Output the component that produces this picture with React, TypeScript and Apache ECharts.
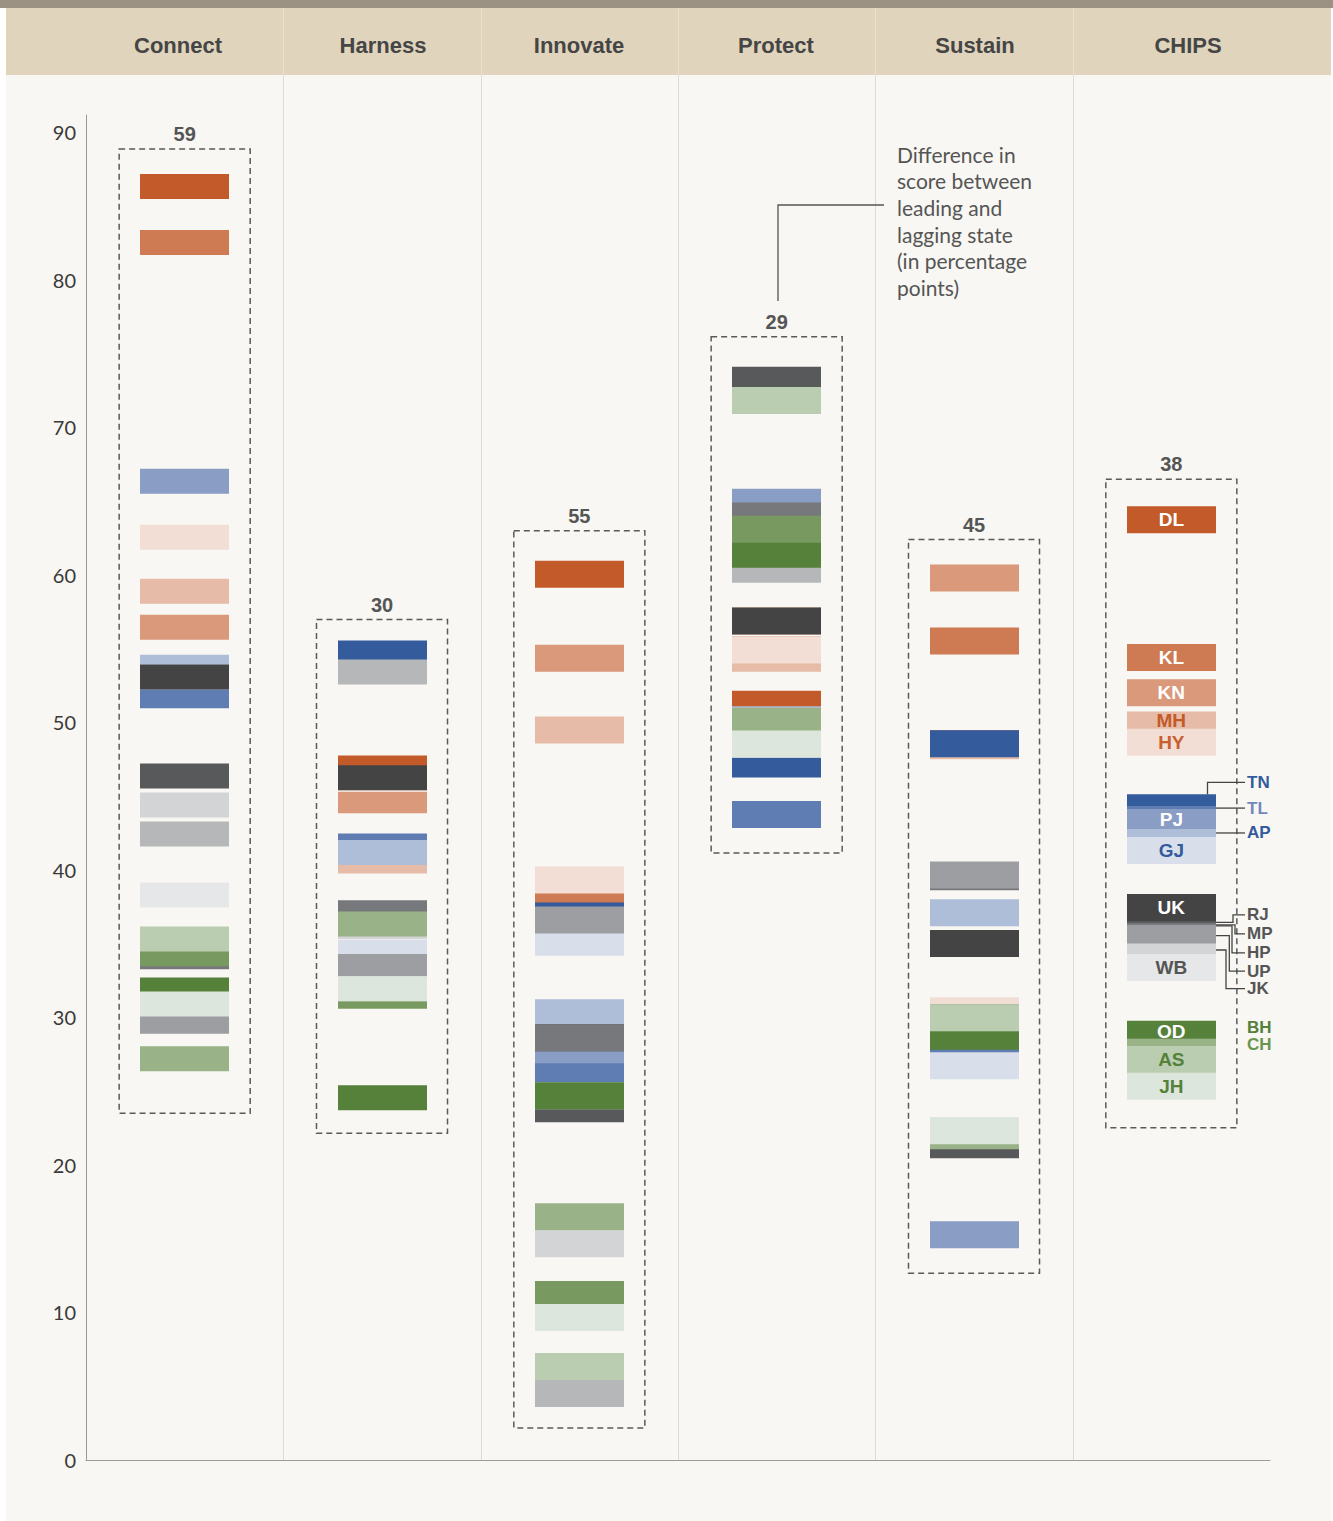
import React, { useEffect, useRef } from "react";
import * as echarts from "echarts";

const pillars = ["Connect", "Harness", "Innovate", "Protect", "Sustain", "CHIPS"];
const gapLabels = [59, 30, 55, 29, 45, 38];
const states = ["DL", "KL", "KN", "MH", "HY", "TN", "TL", "PJ", "AP", "GJ", "UK", "RJ", "MP", "HP", "UP", "JK", "WB", "OD", "BH", "CH", "AS", "JH"];
const stateColors = ["#c35a29", "#ce7b53", "#d9997a", "#e6bba7", "#f2ded4", "#345b9c", "#5f7db3", "#8a9dc4", "#aebdd8", "#d8dfeb", "#444444", "#58595b", "#77787b", "#9d9ea1", "#b6b7b9", "#d3d4d6", "#e6e7e8", "#55813a", "#789a60", "#99b287", "#bbcdb1", "#dde6dc"];

// scores per pillar, in the order of `states`
const connect = [86.31, 82.51, 56.44, 58.88, 62.54, 52.6, 51.8, 66.33, 53.73, 53.06, 53.06, 46.35, 34.1, 29.73, 42.43, 44.39, 38.29, 31.86, 34.3, 27.19, 35.31, 30.91];
const harness = [46.9, 45.3, 44.68, 40.59, 46.11, 54.69, 41.61, 41.17, 41.17, 34.4, 46.24, 36.33, 37.08, 33.44, 53.4, 36.13, 31.93, 24.55, 31.42, 36.33, 31.93, 31.93];
const innovate = [60.03, 38.57, 54.34, 49.47, 39.31, 36.87, 26.24, 27.8, 30.31, 35.08, 28.62, 23.8, 28.62, 36.6, 4.5, 14.66, 24.68, 24.68, 11.21, 16.49, 6.33, 9.65];
const protect = [51.22, 54.89, 56.86, 54.34, 54.89, 47.16, 43.74, 64.9, 50.17, 48.52, 56.86, 73.17, 63.97, 61.38, 60.37, 71.81, 48.52, 61.38, 63.08, 50.07, 71.81, 48.52];
const sustain = [48.54, 55.51, 59.77, 48.4, 30.44, 48.54, 28.47, 15.27, 37.08, 26.71, 35.0, 21.37, 39.53, 39.65, 29.97, 29.97, 22.31, 28.71, 29.97, 21.98, 29.97, 22.31];
const chips = [63.72, 54.38, 52.0, 49.81, 48.65, 44.2, 43.4, 43.2, 41.85, 41.3, 37.45, 35.62, 35.48, 35.35, 34.05, 34.08, 33.38, 28.85, 27.64, 27.64, 27.15, 25.33];
const pillarScores = [connect, harness, innovate, protect, sustain, chips];

const yTicks = [0, 10, 20, 30, 40, 50, 60, 70, 80, 90];
const annotationLines = ["Difference in", "score between", "leading and", "lagging state", "(in percentage", "points)"];

// CHIPS state labels (style/layout only)
const chipsLabels: any[] = [
  { st: "DL", mode: "in", color: "#ffffff", dy: 0 },
  { st: "KL", mode: "in", color: "#ffffff", dy: 0 },
  { st: "KN", mode: "in", color: "#ffffff", dy: 0 },
  { st: "MH", mode: "in", color: "#c35a29", dy: -5 },
  { st: "HY", mode: "in", color: "#c8602f", dy: 0 },
  { st: "TN", mode: "up", color: "#345b9c", dy: -12 },
  { st: "TL", mode: "out", color: "#7088bb", attach: 2 },
  { st: "PJ", mode: "in", color: "#ffffff", dy: -3 },
  { st: "AP", mode: "out", color: "#345b9c", attach: 4 },
  { st: "GJ", mode: "in", color: "#345b9c", dy: 0 },
  { st: "UK", mode: "in", color: "#ffffff", dy: 0 },
  { st: "RJ", mode: "elbow", color: "#555555", attach: 1.5, elbow: 17, dy: -6 },
  { st: "MP", mode: "elbow", color: "#555555", attach: 2, elbow: 19, dy: 11 },
  { st: "HP", mode: "elbow", color: "#555555", attach: 1, elbow: 16, dy: 28 },
  { st: "UP", mode: "elbow", color: "#555555", attach: -8.4, elbow: 13.3, dy: 27 },
  { st: "JK", mode: "elbow", color: "#555555", attach: 6.4, elbow: 10, dy: 45 },
  { st: "WB", mode: "in", color: "#555555", dy: 0 },
  { st: "OD", mode: "in", color: "#ffffff", dy: -3 },
  { st: "BH", mode: "text", color: "#55813a", dy: -11 },
  { st: "CH", mode: "text", color: "#6a9650", dy: 6 },
  { st: "AS", mode: "in", color: "#55813a", dy: 0 },
  { st: "JH", mode: "in", color: "#55813a", dy: 0 },
];

const barHeights = [25, 25, 27, 27, 27, 27];
const boxPadTop = [25, 21, 30, 30, 25, 27];
const boxPadBottom = [42, 23, 21, 25, 25, 28];
const BAR_FRAC = 0.451;
const BOX_FRAC = 0.664;
const BOLD = "Liberation Sans, Arial, sans-serif";
const REG = "Lato, sans-serif";

export default function App() {
  const ref = useRef<HTMLDivElement>(null);
  useEffect(() => {
    document.body.style.margin = "0";
    const chart = echarts.init(ref.current!, null, { renderer: "svg" });

    const barData: any[] = [];
    states.forEach((s, si) => {
      pillarScores.forEach((arr, pi) => {
        barData.push([pi, arr[si], si]);
      });
    });
    const boxData = pillarScores.map((arr, pi) => [pi, Math.max(...arr), Math.min(...arr)]);
    const labelData = chipsLabels.map((l) => {
      const si = states.indexOf(l.st);
      return [5, chips[si], si];
    });

    const headers = pillars.map((p, i) => ({
      type: "text",
      z: 5,
      x: [178, 383, 579, 776, 975, 1188][i],
      y: 45,
      style: { text: p, fill: "#454545", font: `bold 22px ${BOLD}`, textAlign: "center", textVerticalAlign: "middle", align: "center", verticalAlign: "middle" },
    }));

    const baseGraphics: any[] = [
      { type: "rect", z: -20, shape: { x: 6, y: 0, width: 1325, height: 1521 }, style: { fill: "#f8f7f3" } },
      { type: "rect", z: -19, shape: { x: 6, y: 8, width: 1325, height: 67 }, style: { fill: "#e0d4bc" } },
      { type: "rect", z: -19, shape: { x: 0, y: 0, width: 1333, height: 8 }, style: { fill: "#9b9283" } },
      ...headers,
      {
        type: "text",
        z: 5,
        x: 897,
        y: 141,
        style: { text: annotationLines.join("\n"), fill: "#555555", font: `21px ${REG}`, lineHeight: 26.6, textAlign: "left", align: "left" },
      },
      {
        type: "polyline",
        z: 5,
        shape: { points: [[778, 301], [778, 205], [884, 205]] },
        style: { stroke: "#555555", lineWidth: 1.3, fill: "none" },
      },
    ];

    const option: any = {
      animation: false,
      backgroundColor: "#ffffff",
      grid: { left: 86, right: 63, top: 115, bottom: 61 },
      xAxis: {
        type: "category",
        data: pillars,
        boundaryGap: true,
        axisLine: { show: true, lineStyle: { color: "#9a9a9a", width: 1 } },
        axisTick: { show: false },
        axisLabel: { show: false },
        splitLine: { show: false },
      },
      yAxis: {
        type: "value",
        min: 0,
        max: 91.15,
        interval: 10,
        axisLine: { show: true, lineStyle: { color: "#9a9a9a", width: 1 } },
        axisTick: { show: false },
        splitLine: { show: false },
        axisLabel: {
          margin: 10,
          fontSize: 20,
          fontFamily: REG,
          color: "#3a3a3a",
          formatter: (v: number) => (yTicks.indexOf(Math.round(v * 100) / 100) >= 0 ? String(v) : ""),
        },
      },
      graphic: baseGraphics,
      series: [
        {
          type: "custom",
          name: "box",
          clip: false,
          z: 3,
          data: boxData,
          renderItem: (params: any, api: any) => {
            const pi = api.value(0);
            const top = api.coord([pi, api.value(1)]);
            const bot = api.coord([pi, api.value(2)]);
            const w = api.size([1, 0])[0] * BOX_FRAC;
            const h = barHeights[pi];
            const y0 = top[1] - h / 2 - boxPadTop[pi];
            const y1 = bot[1] + h / 2 + boxPadBottom[pi];
            return {
              type: "group",
              children: [
                {
                  type: "rect",
                  shape: { x: top[0] - w / 2, y: y0, width: w, height: y1 - y0 },
                  style: { fill: "none", stroke: "#5a5a5a", lineWidth: 1.5, lineDash: [6, 4] },
                },
                {
                  type: "text",
                  style: {
                    text: String(gapLabels[pi]),
                    x: top[0],
                    y: y0 - 15,
                    fill: "#555555",
                    font: `bold 20px ${BOLD}`,
                    align: "center",
                    verticalAlign: "middle",
                  },
                },
              ],
            };
          },
        },
        {
          type: "custom",
          name: "bars",
          clip: false,
          z: 4,
          data: barData,
          renderItem: (params: any, api: any) => {
            const pi = api.value(0);
            const si = api.value(2);
            const c = api.coord([pi, api.value(1)]);
            const bw = api.size([1, 0])[0] * BAR_FRAC;
            const h = barHeights[pi];
            return {
              type: "rect",
              z2: si,
              shape: { x: Math.round(c[0] - bw / 2), y: c[1] - h / 2, width: Math.round(bw), height: h },
              style: { fill: stateColors[si] },
            };
          },
        },
        {
          type: "custom",
          name: "labels",
          clip: false,
          z: 6,
          data: labelData,
          renderItem: (params: any, api: any) => {
            const l = chipsLabels[params.dataIndex];
            const pi = api.value(0);
            const c = api.coord([pi, api.value(1)]);
            const bw = Math.round(api.size([1, 0])[0] * BAR_FRAC);
            const h = barHeights[pi];
            const top = c[1] - h / 2;
            const right = Math.round(c[0] - bw / 2) + bw;
            const lx = right + 31;
            const inside = l.mode === "in";
            const textStyle = (x: number, y: number, align: string) => ({
              text: l.st,
              x,
              y,
              fill: l.color,
              font: `bold ${inside ? 19 : 17}px ${BOLD}`,
              align,
              verticalAlign: "middle",
            });
            const lineStyle = { stroke: "#444444", lineWidth: 1.3, fill: "none" };
            if (inside) {
              return { type: "text", style: textStyle(c[0], c[1] + l.dy, "center") };
            }
            if (l.mode === "text") {
              return { type: "text", style: textStyle(lx, top + l.dy, "left") };
            }
            if (l.mode === "out") {
              const y = top + l.attach;
              return {
                type: "group",
                children: [
                  { type: "polyline", shape: { points: [[right, y], [lx - 2, y]] }, style: lineStyle },
                  { type: "text", style: textStyle(lx, y, "left") },
                ],
              };
            }
            if (l.mode === "up") {
              const x = right - 8.5;
              const y = top + l.dy;
              return {
                type: "group",
                children: [
                  { type: "polyline", shape: { points: [[x, top], [x, y], [lx - 2, y]] }, style: lineStyle },
                  { type: "text", style: textStyle(lx, y, "left") },
                ],
              };
            }
            const ya = top + l.attach;
            const yl = top + l.dy;
            const ex = right + l.elbow;
            return {
              type: "group",
              children: [
                { type: "polyline", shape: { points: [[right, ya], [ex, ya], [ex, yl], [lx - 2, yl]] }, style: lineStyle },
                { type: "text", style: textStyle(lx, yl, "left") },
              ],
            };
          },
        },
      ],
    };

    chart.setOption(option);

    const centers = pillars.map((_, i) => chart.convertToPixel({ xAxisIndex: 0 }, i) as number);
    const seps: any[] = [];
    for (let i = 0; i < centers.length - 1; i++) {
      const x = Math.round((centers[i] + centers[i + 1]) / 2) + 0.5;
      seps.push({ type: "line", z: -10, shape: { x1: x, y1: 8, x2: x, y2: 75 }, style: { stroke: "#e9e1d1", lineWidth: 1 } });
      seps.push({ type: "line", z: -10, shape: { x1: x, y1: 75, x2: x, y2: 1460 }, style: { stroke: "#dddbd6", lineWidth: 1 } });
    }
    chart.setOption({ graphic: [...baseGraphics, ...seps] });

    return () => chart.dispose();
  }, []);
  return <div ref={ref} style={{ width: 1333, height: 1521 }} />;
}
